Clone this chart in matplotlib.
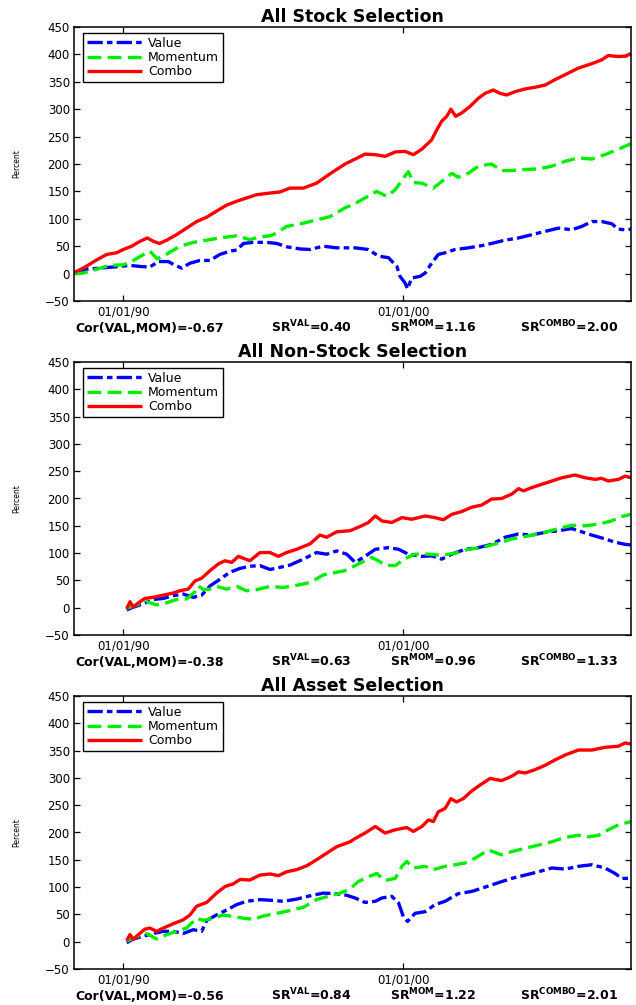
import matplotlib
matplotlib.use("Agg")
import matplotlib.pyplot as plt

plt.rcParams["font.family"] = ["DejaVu Sans"]
plt.rcParams["mathtext.fontset"] = "dejavusans"
plt.rcParams["lines.scale_dashes"] = False

# ---------------- data (cumulative returns, percent) ----------------
titles = ["All Stock Selection", "All Non-Stock Selection", "All Asset Selection"]
series_labels = ["Value", "Momentum", "Combo"]
xtick_years = [1990, 2000]
xtick_labels = ["01/01/90", "01/01/00"]
ytick_values = [-50, 0, 50, 100, 150, 200, 250, 300, 350, 400, 450]

cor_vals = ["-0.67", "-0.38", "-0.56"]
sr_val = ["0.40", "0.63", "0.84"]
sr_mom = ["1.16", "0.96", "1.22"]
sr_combo = ["2.00", "1.33", "2.01"]

# All Stock Selection
stock_val_t = [1988.24, 1988.69, 1989.17, 1989.64, 1990.24, 1990.6, 1990.95, 1991.25, 1991.61, 1991.85,
               1992.09, 1992.38, 1992.74, 1993.1, 1993.45, 1993.81, 1994.05, 1994.29, 1994.64, 1995.12,
               1995.48, 1995.83, 1996.31, 1996.67, 1997.14, 1997.62, 1998.0, 1998.28, 1998.75, 1999.11,
               1999.47, 1999.77, 1999.88, 2000.06, 2000.15, 2000.3, 2000.6, 2000.78, 2001.01, 2001.25,
               2001.49, 2001.85, 2002.32, 2002.8, 2003.15, 2003.63, 2004.11, 2004.59, 2005.06, 2005.54,
               2006.01, 2006.37, 2006.73, 2007.08, 2007.44, 2007.68, 2007.92, 2008.13]
stock_val = [0, 8, 10, 12, 15, 13, 12, 22, 22, 15,
             10, 19, 24, 24, 35, 41, 43, 55, 57, 57,
             55, 49, 45, 44, 50, 47, 47, 47, 44, 32,
             29, 13, -5, -17, -28, -8, -5, 1, 19, 35,
             38, 44, 47, 51, 55, 61, 65, 71, 77, 83,
             80, 86, 95, 95, 91, 81, 80, 81]

stock_mom_t = [1988.24, 1988.57, 1989.05, 1989.53, 1990.0, 1990.36, 1990.66, 1990.95, 1991.21, 1991.43,
               1991.67, 1992.02, 1992.5, 1992.98, 1993.45, 1994.05, 1994.52, 1994.88, 1995.24, 1995.48,
               1995.83, 1996.43, 1996.9, 1997.38, 1997.92, 1998.28, 1998.63, 1999.05, 1999.41, 1999.71,
               2000.0, 2000.18, 2000.36, 2000.66, 2001.07, 2001.37, 2001.73, 2001.96, 2002.32, 2002.68,
               2003.15, 2003.51, 2003.87, 2004.35, 2004.82, 2005.3, 2005.78, 2006.25, 2006.73, 2007.2,
               2007.68, 2008.13]
stock_mom = [0, 1, 8, 15, 16, 24, 33, 41, 27, 32,
             39, 50, 57, 61, 65, 69, 62, 67, 69, 74,
             86, 92, 98, 104, 120, 128, 138, 150, 141, 153,
             174, 186, 166, 165, 156, 168, 183, 176, 183, 196,
             200, 188, 188, 190, 191, 196, 205, 211, 209, 217,
             227, 237]

stock_combo_t = [1988.24, 1988.57, 1989.05, 1989.41, 1989.76, 1990.0, 1990.3, 1990.6, 1990.86, 1991.07,
                 1991.29, 1991.55, 1991.9, 1992.26, 1992.62, 1992.98, 1993.33, 1993.69, 1994.05, 1994.4,
                 1994.76, 1995.24, 1995.6, 1995.95, 1996.43, 1996.9, 1997.38, 1997.92, 1998.28, 1998.63,
                 1998.99, 1999.35, 1999.71, 2000.06, 2000.36, 2000.66, 2001.01, 2001.19, 2001.37, 2001.55,
                 2001.70, 2001.87, 2002.08, 2002.38, 2002.68, 2002.92, 2003.21, 2003.45, 2003.69, 2003.99,
                 2004.35, 2004.7, 2005.06, 2005.42, 2005.78, 2006.25, 2006.73, 2007.08, 2007.32, 2007.68,
                 2007.97, 2008.13]
stock_combo = [2, 10, 25, 35, 38, 44, 50, 59, 65, 59,
               55, 61, 71, 83, 95, 103, 114, 125, 132, 138,
               144, 147, 149, 156, 156, 165, 182, 200, 209, 218,
               217, 214, 222, 223, 217, 227, 244, 262, 278, 287,
               300, 287, 293, 305, 320, 329, 335, 329, 326, 332,
               337, 340, 344, 354, 363, 375, 383, 390, 398, 396,
               397, 402]

# All Non-Stock Selection
nonstock_val_t = [1990.12, 1990.36, 1990.71, 1991.07, 1991.43, 1991.79, 1992.14, 1992.5, 1992.8, 1993.1,
                  1993.45, 1993.81, 1994.17, 1994.52, 1994.88, 1995.24, 1995.6, 1995.95, 1996.43, 1996.9,
                  1997.26, 1997.62, 1997.98, 1998.28, 1998.63, 1999.0, 1999.47, 1999.83, 2000.18, 2000.66,
                  2001.01, 2001.37, 2001.73, 2002.2, 2002.68, 2003.15, 2003.63, 2004.11, 2004.59, 2005.06,
                  2005.54, 2006.01, 2006.37, 2006.73, 2007.2, 2007.56, 2007.92, 2008.13]
nonstock_val = [-4, 1, 7, 15, 17, 22, 25, 19, 23, 40,
                52, 65, 72, 76, 77, 70, 74, 78, 89, 101,
                98, 104, 98, 83, 94, 107, 110, 107, 98, 94,
                95, 89, 98, 107, 110, 116, 129, 135, 133, 138,
                141, 145, 139, 133, 126, 120, 116, 115]

nonstock_mom_t = [1990.12, 1990.48, 1990.83, 1991.19, 1991.55, 1991.9, 1992.26, 1992.56, 1992.68, 1992.86,
                  1993.1, 1993.33, 1993.69, 1994.05, 1994.4, 1994.76, 1995.24, 1995.71, 1996.19, 1996.67,
                  1997.14, 1997.62, 1997.92, 1998.28, 1998.63, 1998.87, 1999.11, 1999.35, 1999.71, 2000.06,
                  2000.42, 2000.9, 2001.37, 2001.85, 2002.32, 2002.8, 2003.15, 2003.51, 2003.87, 2004.23,
                  2004.59, 2005.06, 2005.54, 2006.01, 2006.49, 2006.97, 2007.44, 2007.8, 2008.13]
nonstock_mom = [-1, 5, 11, 5, 9, 15, 16, 29, 40, 33,
                34, 39, 34, 39, 31, 33, 39, 37, 41, 46,
                60, 65, 68, 77, 86, 92, 86, 78, 77, 90,
                98, 98, 96, 100, 107, 110, 115, 120, 126, 129,
                133, 138, 145, 151, 150, 153, 159, 167, 171]

nonstock_combo_t = [1990.12, 1990.24, 1990.36, 1990.54, 1990.77, 1991.07, 1991.43, 1991.79, 1992.02, 1992.32,
                    1992.56, 1992.8, 1993.1, 1993.39, 1993.63, 1993.87, 1994.11, 1994.52, 1994.88, 1995.24,
                    1995.54, 1995.83, 1996.19, 1996.67, 1997.02, 1997.26, 1997.62, 1998.1, 1998.51, 1998.75,
                    1999.0, 1999.23, 1999.59, 1999.95, 2000.3, 2000.78, 2001.13, 2001.43, 2001.73, 2002.08,
                    2002.44, 2002.8, 2003.15, 2003.51, 2003.87, 2004.11, 2004.29, 2004.59, 2004.94, 2005.3,
                    2005.66, 2006.13, 2006.49, 2006.85, 2007.08, 2007.32, 2007.68, 2007.92, 2008.13]
nonstock_combo = [-2, 11, 1, 9, 17, 19, 23, 27, 31, 34,
                  49, 54, 68, 80, 86, 83, 94, 86, 101, 101,
                  94, 101, 107, 117, 133, 129, 139, 141, 150, 156,
                  168, 159, 156, 165, 162, 168, 165, 161, 171, 176,
                  184, 188, 199, 200, 208, 218, 214, 220, 226, 232,
                  238, 243, 238, 235, 237, 232, 235, 241, 238]

# All Asset Selection
asset_val_t = [1990.12, 1990.36, 1990.71, 1991.07, 1991.43, 1991.79, 1992.14, 1992.5, 1992.8, 1992.98,
               1993.33, 1993.69, 1994.05, 1994.4, 1994.88, 1995.24, 1995.71, 1996.19, 1996.67, 1997.14,
               1997.62, 1997.98, 1998.28, 1998.63, 1999.0, 1999.23, 1999.59, 1999.83, 2000.0, 2000.15,
               2000.42, 2000.78, 2001.13, 2001.49, 2001.96, 2002.44, 2002.92, 2003.39, 2003.87, 2004.35,
               2004.82, 2005.3, 2005.78, 2006.25, 2006.73, 2007.2, 2007.56, 2007.8, 2008.13]
asset_val = [-2, 5, 10, 15, 19, 19, 15, 22, 19, 39,
             49, 58, 68, 74, 77, 76, 74, 78, 84, 89,
             88, 85, 80, 72, 74, 80, 83, 71, 46, 37,
             52, 55, 68, 74, 88, 92, 100, 108, 116, 122,
             128, 135, 133, 138, 141, 135, 125, 116, 116]

asset_mom_t = [1990.12, 1990.48, 1990.83, 1991.19, 1991.55, 1991.9, 1992.26, 1992.62, 1992.86, 1993.21,
               1993.57, 1993.93, 1994.29, 1994.64, 1995.0, 1995.48, 1995.95, 1996.43, 1996.9, 1997.38,
               1997.74, 1998.05, 1998.39, 1998.75, 1999.05, 1999.35, 1999.71, 1999.95, 2000.12, 2000.36,
               2000.78, 2001.07, 2001.49, 2001.85, 2002.2, 2002.56, 2003.04, 2003.51, 2003.87, 2004.35,
               2004.82, 2005.3, 2005.78, 2006.25, 2006.61, 2006.97, 2007.32, 2007.68, 2008.13]
asset_mom = [1, 9, 15, 5, 13, 19, 25, 43, 39, 43,
             49, 46, 43, 41, 47, 52, 57, 63, 77, 84,
             89, 95, 110, 119, 125, 112, 116, 138, 147, 135,
             138, 132, 138, 141, 144, 153, 168, 159, 165, 171,
             177, 183, 191, 195, 192, 195, 205, 214, 220]

asset_combo_t = [1990.12, 1990.24, 1990.36, 1990.54, 1990.77, 1990.95, 1991.19, 1991.43, 1991.79, 1992.14,
                 1992.38, 1992.62, 1992.98, 1993.33, 1993.63, 1993.93, 1994.17, 1994.52, 1994.88, 1995.24,
                 1995.54, 1995.83, 1996.19, 1996.55, 1996.9, 1997.26, 1997.62, 1998.1, 1998.28, 1998.63,
                 1999.0, 1999.35, 1999.71, 2000.12, 2000.36, 2000.66, 2000.9, 2001.07, 2001.25, 2001.49,
                 2001.7, 2001.9, 2002.14, 2002.44, 2002.74, 2003.1, 2003.51, 2003.87, 2004.11, 2004.35,
                 2004.7, 2005.06, 2005.42, 2005.78, 2006.25, 2006.73, 2007.2, 2007.68, 2007.92, 2008.13]
asset_combo = [2, 13, 4, 13, 23, 25, 19, 25, 33, 40,
               49, 65, 72, 89, 101, 106, 114, 113, 122, 124,
               121, 128, 132, 139, 150, 162, 174, 183, 189, 199,
               211, 199, 205, 209, 202, 211, 223, 220, 238, 244,
               262, 256, 262, 276, 287, 299, 295, 303, 311, 309,
               315, 323, 333, 342, 351, 351, 356, 358, 364, 362]

panels = [
    [(stock_val_t, stock_val), (stock_mom_t, stock_mom), (stock_combo_t, stock_combo)],
    [(nonstock_val_t, nonstock_val), (nonstock_mom_t, nonstock_mom), (nonstock_combo_t, nonstock_combo)],
    [(asset_val_t, asset_val), (asset_mom_t, asset_mom), (asset_combo_t, asset_combo)],
]

# ---------------- styling ----------------
line_styles = [
    dict(color="#0000ff", linestyle=(0, (11, 3, 4, 3))),
    dict(color="#00ee00", linestyle=(0, (10, 4.5))),
    dict(color="#ff0000", linestyle="-"),
]

W, H = 636, 1005
fig = plt.figure(figsize=(W / 100, H / 100), dpi=100)

ax_left, ax_right = 74, 631
ax_tops = [27, 362, 696]
ax_bottoms = [301, 635, 969]

for k in range(3):
    ax = fig.add_axes([ax_left / W, 1 - ax_bottoms[k] / H,
                       (ax_right - ax_left) / W, (ax_bottoms[k] - ax_tops[k]) / H])
    handles = []
    for (t, v), lab, st in zip(panels[k], series_labels, line_styles):
        h, = ax.plot(t, v, lw=2.4, label=lab, solid_capstyle="butt",
                     dash_capstyle="butt", **st)
        handles.append(h)

    ax.set_xlim(1988.24, 2008.13)
    ax.set_ylim(-50, 450)
    ax.set_xticks(xtick_years)
    ax.set_xticklabels(xtick_labels)
    ax.set_yticks(ytick_values)
    ax.tick_params(direction="in", top=True, right=True, length=4, width=0.9,
                   labelsize=8.5, pad=3)
    for sp in ax.spines.values():
        sp.set_linewidth(1.1)

    ax.set_ylabel("Percent", fontsize=5.5)
    ax.yaxis.set_label_coords(-0.095, 0.5)
    ax.set_title(titles[k], fontsize=12.5, fontweight="bold", pad=3.5)

    leg = ax.legend(handles=handles, loc="upper left", bbox_to_anchor=(0.016, 0.978),
                    borderaxespad=0, fontsize=9, handlelength=4.4, handletextpad=0.5,
                    labelspacing=0.1, borderpad=0.3, fancybox=False, framealpha=1,
                    edgecolor="black")
    leg.get_frame().set_linewidth(1.0)

    base_y = 1 - (ax_bottoms[k] + 31) / H
    stat_kw = dict(fontsize=9, fontweight="bold", va="baseline", ha="left")
    fig.text(75 / W, base_y, f"Cor(VAL,MOM)={cor_vals[k]}", **stat_kw)
    fig.text(271 / W, base_y, r"SR$^{\mathbf{VAL}}$=" + sr_val[k], **stat_kw)
    fig.text(390 / W, base_y, r"SR$^{\mathbf{MOM}}$=" + sr_mom[k], **stat_kw)
    fig.text(520 / W, base_y, r"SR$^{\mathbf{COMBO}}$=" + sr_combo[k], **stat_kw)

fig.savefig("out.png", dpi=100)
